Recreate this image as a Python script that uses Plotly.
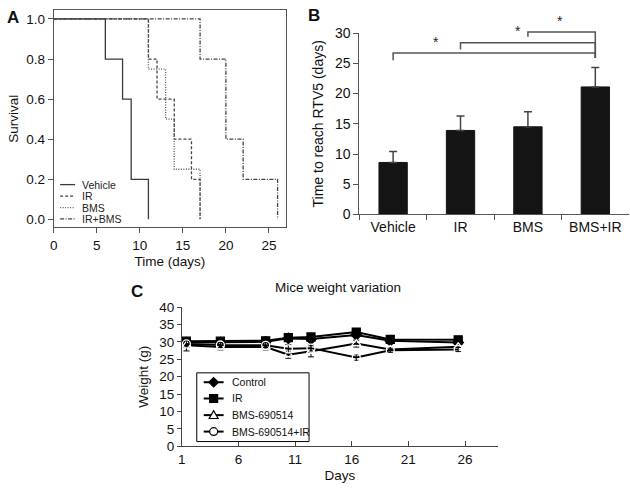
import plotly.graph_objects as go

FONT = "Liberation Sans, Arial, sans-serif"
W, H = 630, 496

# ---------------- Panel A data (Kaplan-Meier survival) ----------------
surv_names = ["Vehicle", "IR", "BMS", "IR+BMS"]
veh_t = [0, 6, 8, 9, 11]
veh_s = [1.0, 0.8, 0.6, 0.2, 0.0]
ir_t = [0, 11, 12, 14, 16, 17]
ir_s = [1.0, 0.8, 0.6, 0.4, 0.2, 0.0]
bms_t = [0, 11, 13, 14, 17]
bms_s = [1.0, 0.75, 0.5, 0.25, 0.0]
irbms_t = [0, 17, 20, 22, 26]
irbms_s = [1.0, 0.8, 0.4, 0.2, 0.0]
surv_dash = ["solid", "3px,2px", "1px,1.5px", "4px,1.5px,1px,1.5px"]
a_xticks = [0, 5, 10, 15, 20, 25]
a_yticks = [0.0, 0.2, 0.4, 0.6, 0.8, 1.0]

# ---------------- Panel B data (time to RTV5) ----------------
groups = ["Vehicle", "IR", "BMS", "BMS+IR"]
rtv5 = [8.6, 13.9, 14.5, 21.1]
rtv5_err = [1.8, 2.4, 2.5, 3.2]
sig_left = [0, 1, 2]
sig_right = [3, 3, 3]
sig_height = [26.7, 28.4, 30.2]
sig_left_foot = [25.5, 27.3, 29.4]
sig_right_foot = [25.9, 25.9, 25.9]
sig_star_x = [0.64, 1.86, 2.47]

# ---------------- Panel C data (mice weight) ----------------
days = [1.4, 4.4, 8.4, 10.4, 12.4, 16.4, 19.4, 25.4]
w_control = [29.8, 29.8, 30.0, 31.0, 30.8, 32.0, 30.3, 29.8]
w_ir = [30.2, 30.2, 30.3, 31.2, 31.4, 32.8, 30.7, 30.6]
w_bms = [29.0, 28.5, 28.5, 26.3, 27.3, 29.5, 27.8, 28.6]
w_bmsir = [29.4, 29.1, 29.0, 28.0, 28.2, 25.5, 27.6, 27.8]
e_control = [0.8, 0.6, 0.5, 0.8, 0.8, 0.8, 0.5, 0.5]
e_ir = [0.5, 0.5, 0.5, 0.6, 0.6, 0.6, 0.5, 0.5]
e_bms = [1.6, 0.8, 0.8, 1.0, 1.6, 1.0, 0.6, 0.6]
e_bmsir = [1.0, 0.8, 0.8, 1.2, 1.0, 0.8, 0.6, 0.6]
c_names = ["Control", "IR", "BMS-690514", "BMS-690514+IR"]
c_symbols = ["diamond", "square", "triangle-up-open", "circle-open"]
c_xticks = [1, 6, 11, 16, 21, 26]

# ---------------- layout geometry (pixels -> paper) ----------------
def px(x):
    return x / W

def py(y):
    return 1 - y / H

xdA = [px(50), px(284)]
ydA = [py(226.7), py(2)]
xdB = [px(357.7), px(629)]
ydB = [py(213.3), py(26)]
xdC = [px(179), px(497)]
ydC = [py(453), py(309)]

fig = go.Figure()

# Panel A traces
surv_series = [(veh_t, veh_s), (ir_t, ir_s), (bms_t, bms_s), (irbms_t, irbms_s)]
surv_color = ["#3a3a3a", "#444444", "#555555", "#444444"]
for (t, s), name, dash, col in zip(surv_series, surv_names, surv_dash, surv_color):
    fig.add_trace(go.Scatter(x=t, y=s, mode="lines", line=dict(shape="hv", dash=dash, color=col, width=1.3),
                             name=name, showlegend=False, xaxis="x", yaxis="y"))

# Panel B bars
fig.add_trace(go.Bar(x=groups, y=rtv5, width=0.42, marker=dict(color="#141414", line=dict(color="#141414", width=1)),
                     error_y=dict(type="data", array=rtv5_err, arrayminus=[0] * 4, symmetric=False,
                                  color="#444444", thickness=1.5, width=4),
                     showlegend=False, xaxis="x2", yaxis="y2"))

# Panel C traces
c_series = [(w_control, e_control), (w_ir, e_ir), (w_bms, e_bms), (w_bmsir, e_bmsir)]
for (w, e), name, sym in zip(c_series, c_names, c_symbols):
    fig.add_trace(go.Scatter(x=days, y=w, mode="lines+markers", name=name,
                             line=dict(color="black", width=2),
                             marker=dict(symbol=sym, size=8, color="white" if "open" in sym else "black",
                                         line=dict(color="black", width=1.3)),
                             error_y=dict(type="data", array=e, color="black", thickness=1, width=3),
                             showlegend=False, xaxis="x3", yaxis="y3"))

axis_common = dict(showgrid=False, zeroline=False, showline=True, linewidth=1)

shapes = []
annotations = []

# Legend for panel A (drawn as layout items)
leg_rows = [182.5, 194.3, 206.2, 218.0]
for name, dash, col, yy in zip(surv_names, surv_dash, surv_color, leg_rows):
    shapes.append(dict(type="line", xref="paper", yref="paper", x0=px(56.5), x1=px(71.5), y0=py(yy), y1=py(yy),
                       line=dict(color=col, width=1.3, dash=dash)))
    annotations.append(dict(xref="paper", yref="paper", x=px(76), y=py(yy), text=name, showarrow=False,
                            xanchor="left", yanchor="middle", font=dict(family=FONT, size=10.5, color="#222")))

# Legend for panel C (boxed, drawn as layout items)
shapes.append(dict(type="rect", xref="paper", yref="paper", x0=px(194), x1=px(307), y0=py(448), y1=py(377),
                   line=dict(color="black", width=1), fillcolor="white", layer="above"))
c_rows = [386.7, 403.5, 420.7, 437.7]
mx, r = 211, 4.0
for name, sym, yy in zip(c_names, c_symbols, c_rows):
    shapes.append(dict(type="line", xref="paper", yref="paper", x0=px(201), x1=px(221), y0=py(yy), y1=py(yy),
                       line=dict(color="black", width=2), layer="above"))
    fill = "white" if "open" in sym else "black"
    if sym.startswith("diamond"):
        path = f"M {px(mx)} {py(yy - r - 0.8)} L {px(mx + r + 0.8)} {py(yy)} L {px(mx)} {py(yy + r + 0.8)} L {px(mx - r - 0.8)} {py(yy)} Z"
    elif sym.startswith("square"):
        path = f"M {px(mx - r)} {py(yy - r)} L {px(mx + r)} {py(yy - r)} L {px(mx + r)} {py(yy + r)} L {px(mx - r)} {py(yy + r)} Z"
    elif sym.startswith("triangle"):
        path = f"M {px(mx)} {py(yy - r - 0.5)} L {px(mx + r + 0.5)} {py(yy + r - 0.5)} L {px(mx - r - 0.5)} {py(yy + r - 0.5)} Z"
    else:
        path = None
    if path:
        shapes.append(dict(type="path", xref="paper", yref="paper", path=path, fillcolor=fill,
                           line=dict(color="black", width=1.2), layer="above"))
    else:
        shapes.append(dict(type="circle", xref="paper", yref="paper", x0=px(mx - r), x1=px(mx + r),
                           y0=py(yy + r), y1=py(yy - r), fillcolor=fill,
                           line=dict(color="black", width=1.2), layer="above"))
    annotations.append(dict(xref="paper", yref="paper", x=px(227), y=py(yy), text=name, showarrow=False,
                            xanchor="left", yanchor="middle", font=dict(family=FONT, size=10.5, color="#111")))

# Significance brackets for panel B
def bx(i):
    return xdB[0] + (i + 0.5) / len(groups) * (xdB[1] - xdB[0])

def by(v):
    return ydB[0] + v / 30.0 * (ydB[1] - ydB[0])

for l, rr, h, lf, rf, sx in zip(sig_left, sig_right, sig_height, sig_left_foot, sig_right_foot, sig_star_x):
    shapes.append(dict(type="path", xref="paper", yref="paper",
                       path=f"M {bx(l)} {by(lf)} L {bx(l)} {by(h)} L {bx(rr)} {by(h)} L {bx(rr)} {by(rf)}",
                       line=dict(color="#555555", width=1.5)))
    annotations.append(dict(xref="paper", yref="paper", x=bx(sx), y=by(h) + 0.003, text="*", showarrow=False,
                            xanchor="center", yanchor="bottom", font=dict(family=FONT, size=14, color="#222")))

# Panel letters and title
for letter, xx, yy in [("A", 9, 10), ("B", 312, 8), ("C", 134, 293)]:
    annotations.append(dict(xref="paper", yref="paper", x=px(xx), y=py(yy), text=f"<b>{letter}</b>",
                            showarrow=False, xanchor="center", yanchor="middle",
                            font=dict(family=FONT, size=17, color="#111")))
annotations.append(dict(xref="paper", yref="paper", x=px(336), y=py(289), text="Mice weight variation",
                        showarrow=False, xanchor="center", yanchor="middle",
                        font=dict(family=FONT, size=13.5, color="#111")))

fig.update_layout(
    width=W, height=H, margin=dict(l=0, r=0, t=0, b=0),
    paper_bgcolor="white", plot_bgcolor="rgba(0,0,0,0)",
    font=dict(family=FONT, color="#111"),
    showlegend=False,
    xaxis=dict(domain=xdA, range=[0, 27], tickvals=a_xticks, ticks="outside", ticklen=5, mirror=True,
               linecolor="#555", tickcolor="#555", anchor="y",
               title=dict(text="Time (days)", standoff=4, font=dict(size=13.5)), tickfont=dict(size=13.5),
               **axis_common),
    yaxis=dict(domain=ydA, range=[-0.04, 1.045], tickvals=a_yticks, tickformat=".1f", ticks="outside", ticklen=5,
               mirror=True, linecolor="#555", tickcolor="#555", anchor="x",
               title=dict(text="Survival", standoff=4, font=dict(size=13.5)), tickfont=dict(size=13.5),
               **axis_common),
    xaxis2=dict(domain=xdB, type="category", range=[-0.5, 3.5], tickson="boundaries", ticks="outside", ticklen=5,
                linecolor="#555", tickcolor="#555", anchor="y2", tickfont=dict(size=14), **axis_common),
    yaxis2=dict(domain=ydB, range=[0, 30], dtick=5, ticks="outside", ticklen=5, linecolor="#555", tickcolor="#555",
                anchor="x2", tickfont=dict(size=14),
                title=dict(text="Time to reach RTV5 (days)", standoff=8, font=dict(size=14)), **axis_common),
    xaxis3=dict(domain=xdC, range=[1, 28.9], tickvals=c_xticks, ticks="inside", ticklen=5, linecolor="#444",
                tickcolor="#444", anchor="y3", tickfont=dict(size=13.5),
                title=dict(text="Days", standoff=4, font=dict(size=13.5)), **axis_common),
    yaxis3=dict(domain=ydC, range=[0, 40], dtick=5, ticks="outside", ticklen=4, linecolor="#444",
                tickcolor="#444", anchor="x3", tickfont=dict(size=13.5),
                title=dict(text="Weight (g)", standoff=7, font=dict(size=13.5)), **axis_common),
    shapes=shapes, annotations=annotations,
)

fig.write_html("out.html", config={"displayModeBar": False},
               post_script="document.body.style.margin='0';")
